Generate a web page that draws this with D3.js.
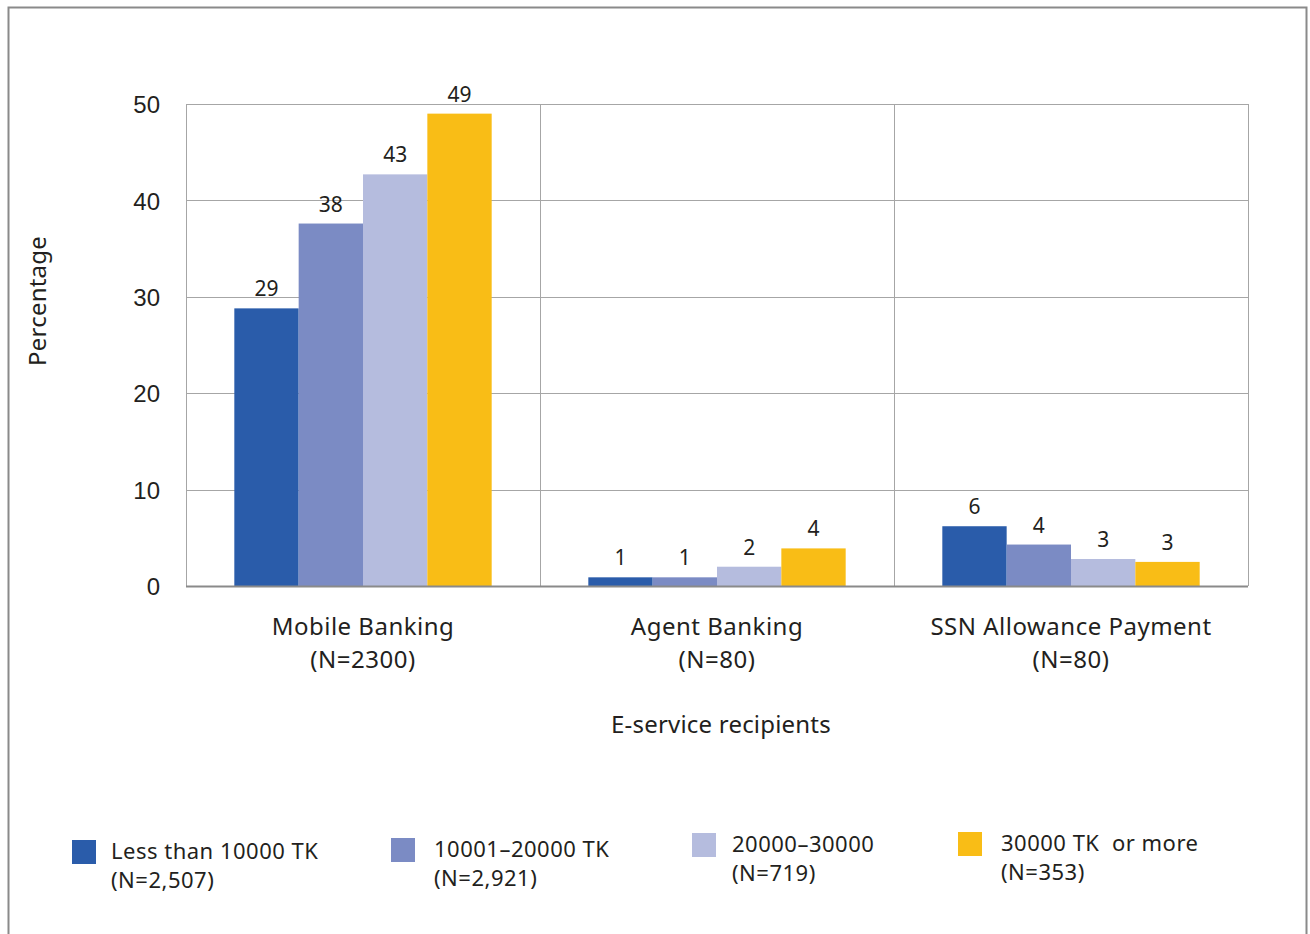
<!DOCTYPE html>
<meta charset="utf-8">
<style>
body { margin: 0; background: #fff; }
svg { font-family: "Noto Sans", "Lato", sans-serif; fill: #231f20; }
.grid line { stroke: #a6a6a6; stroke-width: 1px; }
.tick text { font-size: 24px; fill: #231f20; }
.lbl { font-size: 21px; }
.cat { font-size: 24px; letter-spacing: 0.5px; }
.title { font-size: 24px; letter-spacing: 0.2px; }
.legtext { font-size: 22px; letter-spacing: 0.5px; }
text { white-space: pre; }
</style>
<body>
<script src="https://d3js.org/d3.v7.min.js"></script>
<script>
// data
var categories = ["Mobile Banking", "Agent Banking", "SSN Allowance Payment"];
var categoryN = ["(N=2300)", "(N=80)", "(N=80)"];
var series = ["Less than 10000 TK", "10001\u201320000 TK", "20000\u201330000", "30000 TK  or more"];
var seriesN = ["(N=2,507)", "(N=2,921)", "(N=719)", "(N=353)"];
var colors = ["#2a5caa", "#7b8bc4", "#b5bcde", "#f9bd16"];
var values = [
  [28.8, 37.6, 42.7, 49.0],
  [0.9, 0.9, 2.0, 3.9],
  [6.2, 4.3, 2.8, 2.5]
];
var yTicks = [0, 10, 20, 30, 40, 50];

var W = 1310, H = 934;
var margin = {top: 104, right: 62, bottom: 348, left: 186},
    width = W - margin.left - margin.right,
    height = H - margin.top - margin.bottom;

var svg = d3.select("body").append("svg")
    .attr("width", W).attr("height", H);

// outer frame
svg.append("path")
    .attr("d", "M8.5," + H + "V7.5H1306.5V" + H)
    .attr("fill", "none").attr("stroke", "#8a8a8a").attr("stroke-width", 2);

var g = svg.append("g")
    .attr("transform", "translate(" + margin.left + "," + margin.top + ")");

var x0 = d3.scaleBand().domain(categories).range([0, width]);
var x1 = d3.scaleBand().domain(series).range([0, x0.bandwidth() * 0.727]);
var y = d3.scaleLinear().domain([0, 50]).range([height, 0]);

// grid
var grid = g.append("g").attr("class", "grid");
grid.selectAll(".h").data(yTicks).enter().append("line")
    .attr("x1", 0).attr("x2", width)
    .attr("y1", function(d) { return Math.round(y(d)) + 0.5; })
    .attr("y2", function(d) { return Math.round(y(d)) + 0.5; });
grid.selectAll(".v").data(d3.range(categories.length + 1)).enter().append("line")
    .attr("y1", 0).attr("y2", height)
    .attr("x1", function(i) { return Math.round(i * x0.step()) + 0.5; })
    .attr("x2", function(i) { return Math.round(i * x0.step()) + 0.5; });

// y axis labels
var yAxis = g.append("g")
    .call(d3.axisLeft(y).tickValues(yTicks).tickSize(0).tickPadding(26));
yAxis.select(".domain").remove();
yAxis.selectAll(".tick text").attr("dy", "0.36em");

// bars
var groups = g.selectAll(".grp").data(values).enter().append("g")
    .attr("transform", function(d, i) {
      return "translate(" + (x0(categories[i]) + (x0.bandwidth() - x1.range()[1]) / 2) + ",0)";
    });
groups.selectAll("rect").data(function(d) { return d; }).enter().append("rect")
    .attr("x", function(d, j) { return x1(series[j]); })
    .attr("width", x1.bandwidth())
    .attr("y", function(d) { return y(d); })
    .attr("height", function(d) { return height - y(d); })
    .attr("fill", function(d, j) { return colors[j]; });
groups.selectAll("text").data(function(d) { return d; }).enter().append("text")
    .attr("class", "lbl")
    .attr("text-anchor", "middle")
    .attr("x", function(d, j) { return x1(series[j]) + x1.bandwidth() / 2; })
    .attr("y", function(d) { return y(d) - 12; })
    .text(function(d) { return Math.round(d); });

// baseline
g.append("line").attr("x1", 0).attr("x2", width)
    .attr("y1", height + 0.5).attr("y2", height + 0.5)
    .attr("stroke", "#8a8a8a").attr("stroke-width", 2);

// category labels
var cat = g.selectAll(".cat").data(categories).enter().append("text")
    .attr("class", "cat")
    .attr("text-anchor", "middle")
    .attr("x", function(d) { return x0(d) + x0.bandwidth() / 2; })
    .attr("y", height + 49);
cat.append("tspan").text(function(d) { return d; });
cat.append("tspan")
    .attr("x", function(d) { return x0(d) + x0.bandwidth() / 2; })
    .attr("dy", 33)
    .text(function(d, i) { return categoryN[i]; });

// axis titles
g.append("text").attr("class", "title").attr("text-anchor", "middle")
    .attr("x", width / 2 + 4).attr("y", height + 147)
    .text("E-service recipients");
svg.append("text").attr("class", "title").attr("text-anchor", "middle")
    .attr("transform", "translate(46,301) rotate(-90)")
    .text("Percentage");

// legend
var legendX = [72, 391, 692, 958], legendY = [840, 838, 833, 832], legendTx = [39, 43, 40, 43];
var leg = svg.selectAll(".leg").data(series).enter().append("g")
    .attr("transform", function(d, i) { return "translate(" + legendX[i] + "," + legendY[i] + ")"; });
leg.append("rect").attr("width", 24).attr("height", 24)
    .attr("fill", function(d, i) { return colors[i]; });
var lt = leg.append("text").attr("class", "legtext")
    .attr("x", function(d, i) { return legendTx[i]; }).attr("y", 19);
lt.append("tspan").text(function(d) { return d; });
lt.append("tspan").attr("x", function(d, i) { return legendTx[i]; }).attr("dy", 29)
    .text(function(d, i) { return seriesN[i]; });
</script>
</body>
